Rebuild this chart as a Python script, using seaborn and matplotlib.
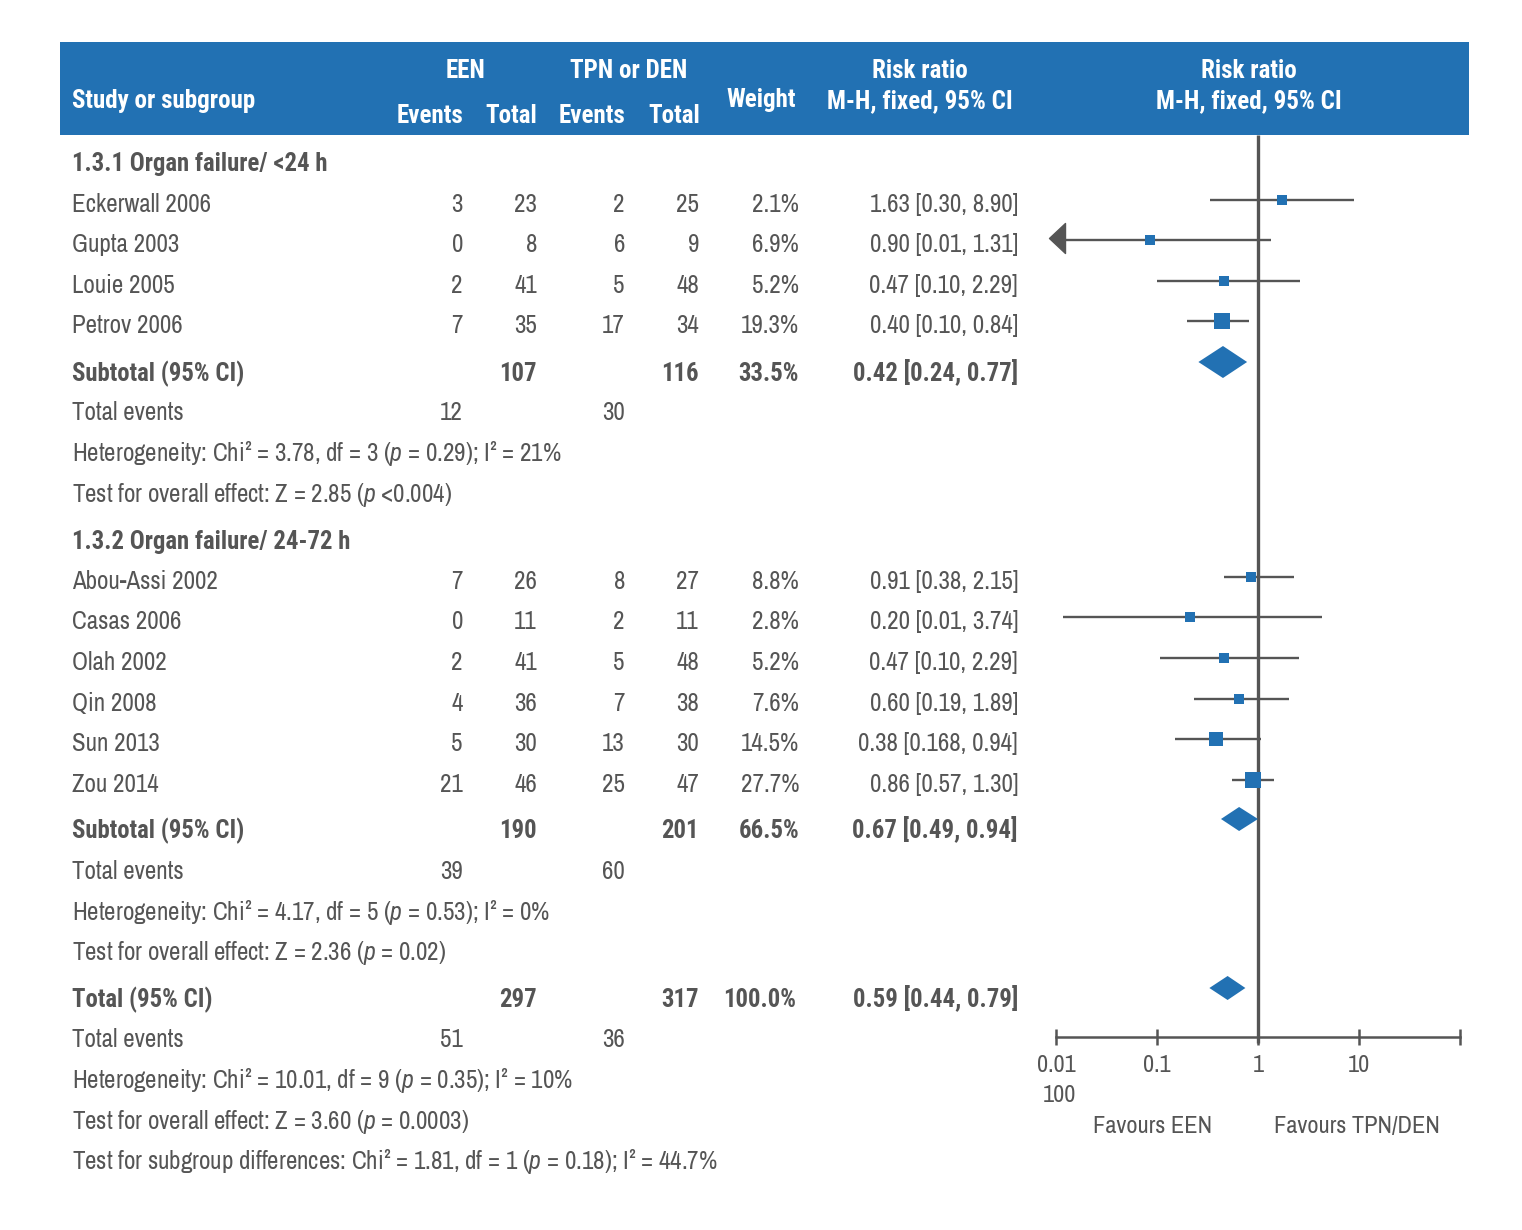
import numpy as np
import pandas as pd
import matplotlib
matplotlib.use("Agg")
import matplotlib.pyplot as plt
import seaborn as sns
from matplotlib import font_manager as fm
from matplotlib.patches import Rectangle, Polygon
from matplotlib.path import Path
from matplotlib.ticker import NullLocator

# ---------------- data ----------------
group_titles = ["1.3.1 Organ failure/ <24 h", "1.3.2 Organ failure/ 24-72 h"]

studies1 = ["Eckerwall 2006", "Gupta 2003", "Louie 2005", "Petrov 2006"]
een_ev1 = [3, 0, 2, 7]
een_tot1 = [23, 8, 41, 35]
tpn_ev1 = [2, 6, 5, 17]
tpn_tot1 = [25, 9, 48, 34]
weight1 = ["2.1%", "6.9%", "5.2%", "19.3%"]
rr_text1 = ["1.63 [0.30, 8.90]", "0.90 [0.01, 1.31]", "0.47 [0.10, 2.29]", "0.40 [0.10, 0.84]"]
rr1 = [1.73, 0.085, 0.46, 0.44]
lo1 = [0.335, 0.01, 0.099, 0.197]
hi1 = [8.86, 1.34, 2.6, 0.82]
box1 = [10, 10, 10, 16]
arrow_left1 = [False, True, False, False]

studies2 = ["Abou-Assi 2002", "Casas 2006", "Olah 2002", "Qin 2008", "Sun 2013", "Zou 2014"]
een_ev2 = [7, 0, 2, 4, 5, 21]
een_tot2 = [26, 11, 41, 36, 30, 46]
tpn_ev2 = [8, 2, 5, 7, 13, 25]
tpn_tot2 = [27, 11, 48, 38, 30, 47]
weight2 = ["8.8%", "2.8%", "5.2%", "7.6%", "14.5%", "27.7%"]
rr_text2 = ["0.91 [0.38, 2.15]", "0.20 [0.01, 3.74]", "0.47 [0.10, 2.29]",
            "0.60 [0.19, 1.89]", "0.38 [0.168, 0.94]", "0.86 [0.57, 1.30]"]
rr2 = [0.85, 0.21, 0.46, 0.65, 0.38, 0.90]
lo2 = [0.46, 0.0118, 0.107, 0.232, 0.151, 0.55]
hi2 = [2.29, 4.33, 2.53, 2.03, 1.07, 1.45]
box2 = [10, 10, 10, 10, 14, 16]

sub_labels = ["Subtotal (95% CI)", "Subtotal (95% CI)", "Total (95% CI)"]
sub_een_tot = ["107", "190", "297"]
sub_tpn_tot = ["116", "201", "317"]
sub_weight = ["33.5%", "66.5%", "100.0%"]
sub_rr_text = ["0.42 [0.24, 0.77]", "0.67 [0.49, 0.94]", "0.59 [0.44, 0.79]"]
sub_rr = [0.45, 0.65, 0.50]
sub_lo = [0.257, 0.43, 0.33]
sub_hi = [0.78, 1.0, 0.75]
sub_h = [32, 24, 24]

tot_events_een = ["12", "39", "51"]
tot_events_tpn = ["30", "60", "36"]
het_text = [
    r"Heterogeneity: Chi² = 3.78, df = 3 ($p$ = 0.29); I² = 21%",
    r"Heterogeneity: Chi² = 4.17, df = 5 ($p$ = 0.53); I² = 0%",
    r"Heterogeneity: Chi² = 10.01, df = 9 ($p$ = 0.35); I² = 10%",
]
test_text = [
    r"Test for overall effect: Z = 2.85 ($p$ <0.004)",
    r"Test for overall effect: Z = 2.36 ($p$ = 0.02)",
    r"Test for overall effect: Z = 3.60 ($p$ = 0.0003)",
]
subgroup_diff = r"Test for subgroup differences: Chi² = 1.81, df = 1 ($p$ = 0.18); I² = 44.7%"

x_ticks = [0.01, 0.1, 1, 10, 100]
x_ticklabels = ["0.01", "0.1", "1", "10", ""]
fav_left, fav_right = "Favours EEN", "Favours TPN/DEN"

# ---------------- style ----------------
sns.set_theme(style="white")
names = {f.name for f in fm.fontManager.ttflist}
def pick(cands, default="DejaVu Sans"):
    for c in cands:
        if c in names:
            return c
    return default
REG = pick(["Archivo Narrow", "Roboto Condensed", "Liberation Sans"])
BOLD = pick(["Roboto Condensed", "Fira Sans Condensed", "Liberation Sans"])
plt.rcParams["font.family"] = [REG, "DejaVu Sans"]
plt.rcParams["mathtext.fontset"] = "custom"
plt.rcParams["mathtext.rm"] = REG
plt.rcParams["mathtext.it"] = BOLD + ":italic"
plt.rcParams["mathtext.bf"] = BOLD + ":bold"

BODY = 18
BBODY = 17.8
HEAD = 18
AXF = 17.5
TXT = "#555555"
LINE = "#555555"
BLUE = "#2271B3"
DPI = 100

fig = plt.figure(figsize=(15.22, 12.30), dpi=DPI)
fig.patch.set_facecolor("white")
tax = fig.add_axes([0, 0, 1, 1])
tax.set_xlim(0, 1522)
tax.set_ylim(1230, 0)
tax.axis("off")

def T(x, yc, s, ha="left", bold=False, color=TXT):
    if bold:
        tax.text(x, yc + 9, s, ha=ha, va="baseline", fontsize=BBODY,
                 family=[BOLD, "DejaVu Sans"], fontweight="bold", color=color)
    else:
        tax.text(x, yc + 9, s, ha=ha, va="baseline", fontsize=BODY, color=color)

def H(x, yb, s, ha="center"):
    tax.text(x, yb, s, ha=ha, va="baseline", fontsize=HEAD,
             family=[BOLD, "DejaVu Sans"], fontweight="bold", color="white")

# header band
tax.add_patch(Rectangle((60, 42), 1409, 93, facecolor=BLUE, edgecolor="none"))
H(72, 108, "Study or subgroup", ha="left")
H(466, 78, "EEN")
H(629, 78, "TPN or DEN")
for xc, s in [(430, "Events"), (511, "Total"), (592, "Events"), (674, "Total")]:
    H(xc, 123, s)
H(761, 107, "Weight")
for xc in (920, 1249):
    H(xc, 78, "Risk ratio")
    H(xc, 108, "M-H, fixed, 95% CI")

# column right edges
XL, XEE, XET, XTE, XTT, XW, XRR = 72, 463, 537, 625, 699, 799, 1018

# row layout (text centres)
y_group = [162, 540]
y_st1 = [203, 243, 284, 324]
y_st2 = [580, 620, 661, 702, 742, 783]
y_sub = [372, 829, 998]
y_totev = [411, 870, 1038]
y_het = [452, 911, 1079]
y_test = [493, 951, 1120]
y_diff = 1160

for yc, s in zip(y_group, group_titles):
    T(XL, yc, s, bold=True)

def study_rows(ys, st, a, b, c, d, w, r):
    for yc, s1, v1, v2, v3, v4, s2, s3 in zip(ys, st, a, b, c, d, w, r):
        T(XL, yc, s1)
        T(XEE, yc, str(v1), ha="right")
        T(XET, yc, str(v2), ha="right")
        T(XTE, yc, str(v3), ha="right")
        T(XTT, yc, str(v4), ha="right")
        T(XW, yc, s2, ha="right")
        T(XRR, yc, s3, ha="right")

study_rows(y_st1, studies1, een_ev1, een_tot1, tpn_ev1, tpn_tot1, weight1, rr_text1)
study_rows(y_st2, studies2, een_ev2, een_tot2, tpn_ev2, tpn_tot2, weight2, rr_text2)

for i in range(3):
    yc = y_sub[i]
    T(XL, yc, sub_labels[i], bold=True)
    T(XET, yc, sub_een_tot[i], ha="right", bold=True)
    T(XTT, yc, sub_tpn_tot[i], ha="right", bold=True)
    T(XW - (3 if i == 2 else 0), yc, sub_weight[i], ha="right", bold=True)
    T(XRR, yc, sub_rr_text[i], ha="right", bold=True)
    T(XL, y_totev[i], "Total events")
    T(XEE, y_totev[i], tot_events_een[i], ha="right")
    T(XTE, y_totev[i], tot_events_tpn[i], ha="right")
    T(XL, y_het[i], het_text[i])
    T(XL, y_test[i], test_text[i])
T(XL, y_diff, subgroup_diff)

# ---------------- forest panel ----------------
fax = fig.add_axes([1056 / 1522, 0, (1460 - 1056) / 1522, 1])
fax.patch.set_alpha(0)
fax.set_xscale("log")
fax.set_xlim(0.01, 100)
fax.set_ylim(1230, 0)

df = pd.DataFrame({
    "rr": rr1 + rr2,
    "lo": lo1 + lo2,
    "hi": hi1 + hi2,
    "y": [y - 3 for y in y_st1 + y_st2],
    "box": box1 + box2,
})

fax.vlines(1, 135, 1043, color=LINE, lw=2.4, zorder=1)
fax.hlines(df["y"], df["lo"], df["hi"], color=LINE, lw=1.7, zorder=2)

area = {b: (b * 72 / DPI) ** 2 for b in df["box"].unique()}
sns.scatterplot(data=df, x="rr", y="y", size="box", sizes=area, marker="s",
                color=BLUE, linewidth=0, legend=False, ax=fax, zorder=3)

arrow = Path([(-8, 0), (8, -15), (8, 15), (-8, 0)],
             [Path.MOVETO, Path.LINETO, Path.LINETO, Path.CLOSEPOLY])
for flag, l, yc in zip(arrow_left1, lo1, y_st1):
    if flag:
        fax.plot([l * 1.02], [yc - 5], marker=arrow, markersize=30 * 72 / DPI,
                 color=LINE, linestyle="none", zorder=3, clip_on=False)

for c, l, h, yc, hh in zip(sub_rr, sub_lo, sub_hi, y_sub, sub_h):
    yd = yc - 10
    fax.add_patch(Polygon([(l, yd), (c, yd - hh / 2), (h, yd), (c, yd + hh / 2)],
                          closed=True, facecolor=BLUE, edgecolor="none", zorder=3))

for sp in ["top", "left", "right"]:
    fax.spines[sp].set_visible(False)
fax.spines["bottom"].set_position(("data", 1037))
fax.spines["bottom"].set_color(LINE)
fax.spines["bottom"].set_linewidth(1.8)
fax.set_xticks(x_ticks)
fax.set_xticklabels(x_ticklabels)
fax.xaxis.set_minor_locator(NullLocator())
fax.tick_params(axis="x", direction="inout", length=12, width=1.8, color=LINE,
                labelcolor=TXT, labelsize=AXF, pad=7, bottom=True)
fax.set_yticks([])
fax.set_xlabel("")
fax.set_ylabel("")

tax.text(1043, 1093 + 9, "100", ha="left", va="baseline", fontsize=AXF, color=TXT)
tax.text(1153, 1124 + 9, fav_left, ha="center", va="baseline", fontsize=AXF, color=TXT)
tax.text(1357, 1124 + 9, fav_right, ha="center", va="baseline", fontsize=AXF, color=TXT)

fig.savefig("out.png", dpi=DPI, facecolor="white")
